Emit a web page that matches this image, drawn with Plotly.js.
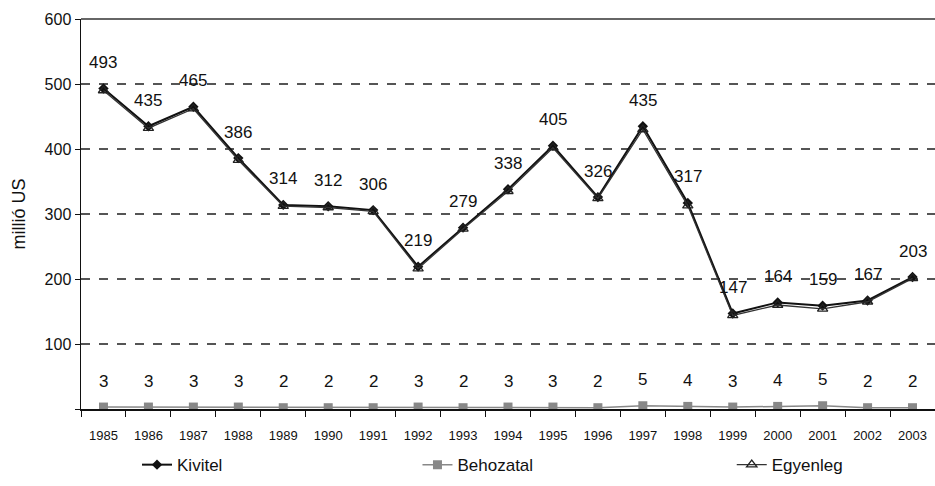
<!DOCTYPE html>
<html><head><meta charset="utf-8">
<script src="https://cdn.plot.ly/plotly-3.0.1.min.js"></script>
<style>body{margin:0;background:#fff}#c{width:935px;height:486px}</style>
</head><body><div id="c"></div>
<script>
const years = ['1985','1986','1987','1988','1989','1990','1991','1992','1993','1994','1995','1996','1997','1998','1999','2000','2001','2002','2003'];
const kivitel = [493,435,465,386,314,312,306,219,279,338,405,326,435,317,147,164,159,167,203];
const behozatal = [3,3,3,3,2,2,2,3,2,3,3,2,5,4,3,4,5,2,2];
const egyenleg = kivitel.map((v,i)=>v-behozatal[i]);
const yTicks = [0,100,200,300,400,500,600];
const yTickText = ['','100','200','300','400','500','600'];

const font = {family:'Liberation Sans, Arial, sans-serif', color:'#111'};
const traces = [
  {x:years, y:kivitel, name:'Kivitel', mode:'lines+markers', type:'scatter', legend:'legend',
   line:{color:'#111', width:2}, marker:{symbol:'diamond', size:8, color:'#111'}},
  {x:years, y:behozatal, name:'Behozatal', mode:'lines+markers', type:'scatter', legend:'legend2',
   line:{color:'#888', width:1.5}, marker:{symbol:'square', size:9, color:'#888'}},
  {x:years, y:egyenleg, name:'Egyenleg', mode:'lines+markers', type:'scatter', legend:'legend3',
   line:{color:'#333', width:1.3}, marker:{symbol:'triangle-up-open', size:9, color:'#222', line:{width:1.3}}}
];
const ann = [];
years.forEach((yr,i)=>{
  ann.push({x:i, y:kivitel[i], text:String(kivitel[i]), showarrow:false, yshift:26, font:{...font, size:17}});
  ann.push({x:i, y:behozatal[i], text:String(behozatal[i]), showarrow:false, yshift:26, font:{...font, size:17}});
});
const legBase = {orientation:'h', yref:'container', y:0.043, yanchor:'middle', xanchor:'left', bgcolor:'rgba(0,0,0,0)', font:{...font, size:17}};
const layout = {
  width:935, height:486, margin:{l:81, r:0, t:19, b:77, autoexpand:false},
  paper_bgcolor:'#fff', plot_bgcolor:'#fff', font:font,
  showlegend:true,
  legend:{...legBase, x:0.0656},
  legend2:{...legBase, x:0.394},
  legend3:{...legBase, x:0.762},
  xaxis:{type:'category', range:[-0.5, years.length-0.5], autorange:false, showline:true, linecolor:'#111', linewidth:1.5,
         ticks:'outside', tickson:'boundaries', ticklen:6, tickcolor:'#111', ticklabelstandoff:14,
         showgrid:false, tickfont:{...font, size:13}, zeroline:false, fixedrange:true},
  yaxis:{range:[0,600], autorange:false, tickvals:yTicks, ticktext:yTickText, showline:true, linecolor:'#111', linewidth:1.5,
         ticks:'outside', ticklen:5, tickcolor:'#111', showgrid:true, gridcolor:'#555', griddash:'dash', gridwidth:1.3,
         tickfont:{...font, size:16}, zeroline:false,
         title:{text:'millió US', font:{...font, size:18}, standoff:14}},
  annotations:ann,
  shapes:[{type:'line', xref:'paper', yref:'paper', x0:0, x1:1, y0:1, y1:1, line:{color:'#666', width:2}}]
};
Plotly.newPlot('c', traces, layout, {displayModeBar:false, staticPlot:true});
</script></body></html>
